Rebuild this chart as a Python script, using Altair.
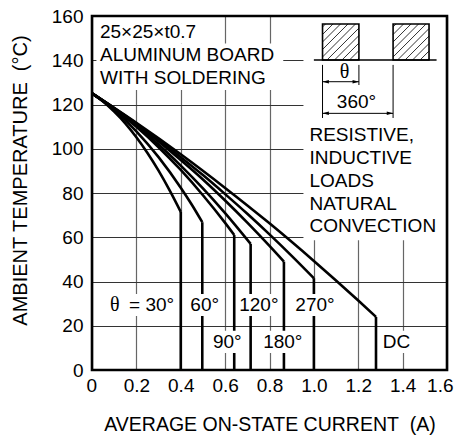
import altair as alt
import pandas as pd

W, H = 355, 354
FONT = "Liberation Sans"
SERIF = "Liberation Serif"

# ---------------- data ----------------
cur_30 = [0, 0.05, 0.10, 0.15, 0.20, 0.25, 0.30, 0.35, 0.40]
temp_30 = [125, 121.4, 116.8, 111.5, 105.2, 98.1, 90.1, 81.2, 71.5]
cur_60 = [0, 0.1, 0.2, 0.3, 0.4, 0.45, 0.497]
temp_60 = [125, 117.5, 107.9, 96.2, 82.4, 74.7, 66.8]
cur_90 = [0, 0.1, 0.2, 0.3, 0.4, 0.5, 0.6, 0.641]
temp_90 = [125, 118.0, 109.9, 100.7, 90.4, 79.0, 66.5, 61.0]
cur_120 = [0, 0.1, 0.2, 0.3, 0.4, 0.5, 0.6, 0.715]
temp_120 = [125, 118.2, 110.4, 101.9, 92.4, 82.1, 70.9, 57.0]
cur_180 = [0, 0.1, 0.2, 0.3, 0.4, 0.5, 0.6, 0.7, 0.8, 0.865]
temp_180 = [125, 118.3, 111.1, 103.3, 94.9, 86.1, 76.6, 66.6, 56.1, 49.0]
cur_270 = [0, 0.1, 0.2, 0.3, 0.4, 0.5, 0.6, 0.7, 0.8, 0.9, 1.0]
temp_270 = [125, 118.4, 111.4, 104.0, 96.2, 88.1, 79.5, 70.6, 61.3, 51.6, 41.5]
cur_dc = [0, 0.2, 0.4, 0.6, 0.8, 1.0, 1.2, 1.28]
temp_dc = [125, 111.7, 97.5, 82.3, 66.3, 49.3, 31.4, 24.0]

series_names = ["30", "60", "90", "120", "180", "270", "DC"]
series_cur = [cur_30, cur_60, cur_90, cur_120, cur_180, cur_270, cur_dc]
series_temp = [temp_30, temp_60, temp_90, temp_120, temp_180, temp_270, temp_dc]

x_ticks = [0, 0.2, 0.4, 0.6, 0.8, 1.0, 1.2, 1.4, 1.6]
y_ticks = [0, 20, 40, 60, 80, 100, 120, 140, 160]

# curve labels (text, centre x, centre y) and their white boxes
lbl_text = ["60°", "120°", "270°", "90°", "180°", "DC"]
lbl_x = [0.508, 0.752, 1.005, 0.61, 0.86, 1.372]
lbl_y = [29.4, 29.4, 29.4, 12.7, 12.7, 12.7]
box_x1 = [0.072, 0.428, 0.658, 0.905, 0.53, 0.76, 1.297]
box_x2 = [0.374, 0.586, 0.847, 1.104, 0.69, 0.96, 1.45]
box_yc = [29.4, 29.4, 29.4, 29.4, 12.7, 12.7, 12.7]

note_left = ["25×25×t0.7", "ALUMINUM BOARD", "WITH SOLDERING"]
note_left_y = [152.9, 142.4, 131.8]
note_right = ["RESISTIVE,", "INDUCTIVE", "LOADS", "NATURAL", "CONVECTION"]
note_right_y = [106.0, 95.8, 85.5, 75.2, 64.9]

# ---------------- tables ----------------
curves = pd.DataFrame(
    [{"name": n, "x": c, "y": t, "o": i}
     for n, cs, ts in zip(series_names, series_cur, series_temp)
     for i, (c, t) in enumerate(zip(cs, ts))]
)
drops = pd.DataFrame({"x": [cs[-1] for cs in series_cur],
                      "y": [ts[-1] for ts in series_temp],
                      "y2": [0] * len(series_cur)})

xs = alt.Scale(domain=[0, 1.6], nice=False, zero=False)
ys = alt.Scale(domain=[0, 160], nice=False, zero=False)

x_axis = alt.Axis(
    values=x_ticks, labelExpr="datum.value == 0 ? '0' : format(datum.value, '.1f')",
    grid=True, gridColor="#666", gridWidth=1.2, ticks=False, domain=False,
    labelFont=FONT, labelFontSize=19, labelColor="black", labelPadding=6,
    labelFlush=True, labelFlushOffset=6,
    title="AVERAGE ON-STATE CURRENT\u00a0 (A)", titleFont=FONT, titleFontSize=19.5,
    titleFontWeight="normal", titleColor="black", titleY=54, titleBaseline="middle",
)
y_axis = alt.Axis(
    values=y_ticks, grid=True, gridColor="#333", gridWidth=1.2, ticks=False, domain=False,
    labelFont=FONT, labelFontSize=19, labelColor="black", labelPadding=9,
    labelFlush=False,
    title="AMBIENT TEMPERATURE\u00a0 (°C)", titleFont=FONT, titleFontSize=20,
    titleFontWeight="normal", titleColor="black", titleX=-72, titleY=164,
    titleBaseline="middle", titleAlign="center", titleAngle=270,
)

X = alt.X("x:Q", scale=xs, axis=x_axis)
Y = alt.Y("y:Q", scale=ys, axis=y_axis)

curve_layer = alt.Chart(curves).mark_line(
    color="black", strokeWidth=2.6, interpolate="monotone"
).encode(x=X, y=Y, detail="name:N", order="o:Q")

drop_layer = alt.Chart(drops).mark_rule(color="black", strokeWidth=2.6).encode(
    x=X, y=Y, y2=alt.Y2("y2:Q"))

# white backgrounds behind text blocks
boxes = pd.DataFrame({
    "x": box_x1 + [0.02, 0.02, 0.953],
    "x2": box_x2 + [0.54, 0.862, 1.6],
    "y": [v - 5 for v in box_yc] + [147.6, 126.6, 58.7],
    "y2": [v + 5 for v in box_yc] + [160, 147.6, 160],
})
box_layer = alt.Chart(boxes).mark_rect(color="white").encode(
    x=X, x2=alt.X2("x2:Q"), y=Y, y2=alt.Y2("y2:Q"))

labels = pd.DataFrame({"x": lbl_x, "y": lbl_y, "t": lbl_text})
label_layer = alt.Chart(labels).mark_text(
    font=FONT, fontSize=19, color="black", align="center", baseline="middle"
).encode(x=X, y=Y, text="t:N")

theta_lbl = pd.DataFrame({"x": [0.081, 1.117], "y": [29.4, 134.8], "t": ["θ", "θ"]})
theta_layer = alt.Chart(theta_lbl).mark_text(
    font=SERIF, fontSize=20, color="black", align="left", baseline="middle"
).encode(x=X, y=Y, text="t:N")
eq_lbl = pd.DataFrame({"x": [0.167], "y": [29.4], "t": ["= 30°"]})
eq_layer = alt.Chart(eq_lbl).mark_text(
    font=FONT, fontSize=19, color="black", align="left", baseline="middle"
).encode(x=X, y=Y, text="t:N")

notes = pd.DataFrame({
    "x": [0.036] * len(note_left) + [0.98] * len(note_right),
    "y": note_left_y + note_right_y,
    "t": note_left + note_right,
})
note_layer = alt.Chart(notes).mark_text(
    font=FONT, fontSize=19, color="black", align="left", baseline="middle"
).encode(x=X, y=Y, text="t:N")

# ---------------- waveform diagram ----------------
pw_rects = pd.DataFrame({"x": [1.039, 1.357], "x2": [1.203, 1.519],
                         "y": [140.1, 140.1], "y2": [156.4, 156.4]})
pw_rect_layer = alt.Chart(pw_rects).mark_rect(
    filled=False, stroke="black", strokeWidth=1.6).encode(
    x=X, x2=alt.X2("x2:Q"), y=Y, y2=alt.Y2("y2:Q"))

px_per_x = W / 1.6
px_per_y = H / 160.0
hatch = []
for _, r in pw_rects.iterrows():
    w = (r["x2"] - r["x"]) * px_per_x
    h = (r["y2"] - r["y"]) * px_per_y
    c = -h + 3
    while c < w:
        xa = max(0.0, c)
        xb = min(w, h + c)
        if xb > xa:
            hatch.append({"x": r["x"] + xa / px_per_x, "y": r["y"] + (xa - c) / px_per_y,
                          "x2": r["x"] + xb / px_per_x, "y2": r["y"] + (xb - c) / px_per_y})
        c += 7.5
hatch_layer = alt.Chart(pd.DataFrame(hatch)).mark_rule(color="black", strokeWidth=0.8).encode(
    x=X, y=Y, x2=alt.X2("x2:Q"), y2=alt.Y2("y2:Q"))

dim_lines = pd.DataFrame({
    "x": [1.0, 1.039, 1.203, 1.357, 1.039, 1.039],
    "x2": [1.553, 1.039, 1.203, 1.357, 1.203, 1.357],
    "y": [140.1, 137.9, 137.9, 137.9, 130.3, 116.0],
    "y2": [140.1, 113.9, 128.8, 113.9, 130.3, 116.0],
    "w": [1.6, 1.0, 1.0, 1.0, 1.0, 1.0],
})
dim_layer = alt.Chart(dim_lines).mark_rule(color="black").encode(
    x=X, y=Y, x2=alt.X2("x2:Q"), y2=alt.Y2("y2:Q"),
    strokeWidth=alt.StrokeWidth("w:Q", scale=None, legend=None))

heads_l = pd.DataFrame({"x": [1.039, 1.039], "y": [130.3, 116.0]})
heads_r = pd.DataFrame({"x": [1.203, 1.357], "y": [130.3, 116.0]})
head_l_layer = alt.Chart(heads_l).mark_point(
    shape="M0,0L2,-0.55L2,0.55Z", filled=True, color="black", size=40, opacity=1).encode(x=X, y=Y)
head_r_layer = alt.Chart(heads_r).mark_point(
    shape="M0,0L-2,-0.55L-2,0.55Z", filled=True, color="black", size=40, opacity=1).encode(x=X, y=Y)

dim_text = pd.DataFrame({"x": [1.192], "y": [121.3], "t": ["360°"]})
dim_text_layer = alt.Chart(dim_text).mark_text(
    font=FONT, fontSize=19, color="black", align="center", baseline="middle"
).encode(x=X, y=Y, text="t:N")

border = alt.Chart(pd.DataFrame({"a": [0]})).mark_rect(
    filled=False, stroke="black", strokeWidth=2.6).encode(
    x=alt.value(0), x2=alt.value(W), y=alt.value(0), y2=alt.value(H))

chart = alt.layer(
    curve_layer, drop_layer, box_layer, label_layer, theta_layer, eq_layer, note_layer,
    pw_rect_layer, hatch_layer, dim_layer, head_l_layer, head_r_layer, dim_text_layer,
    border,
).properties(
    width=W, height=H,
    autosize=alt.AutoSizeParams(type="none"),
    padding={"left": 84, "top": 8, "right": 7, "bottom": 65},
).configure_view(strokeWidth=0).configure(background="white")

chart.save("out.html", embed_options={"renderer": "svg", "actions": False})
